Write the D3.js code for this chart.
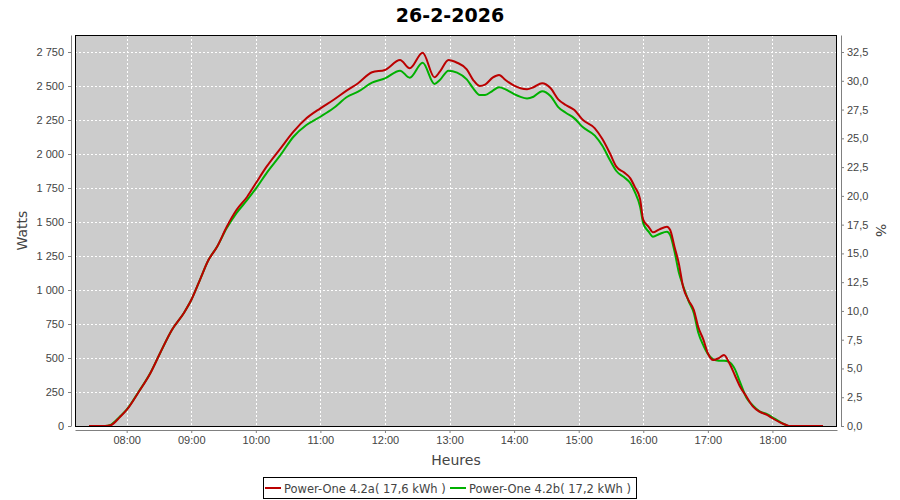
<!DOCTYPE html>
<html>
<head>
<meta charset="utf-8">
<script src="https://cdn.jsdelivr.net/npm/d3@7/dist/d3.min.js"></script>
<style>
    body { margin: 0; background: #fff; }
    svg { display: block; font-family: "DejaVu Sans", sans-serif; }
</style>
</head>
<body>
<div id="chart"></div>
<script>
// sample times (HH:MM), shared by both inverters
const times = ["07:25", "07:40", "07:45", "07:54", "08:00", "08:11", "08:22", "08:31", "08:42", "08:53",
    "09:00", "09:08", "09:16", "09:24", "09:33", "09:42", "09:52", "10:00", "10:10", "10:23",
    "10:35", "10:47", "11:00", "11:12", "11:25", "11:35", "11:48", "12:00", "12:14", "12:23",
    "12:35", "12:46", "12:51", "12:59", "13:07", "13:16", "13:22", "13:28", "13:33", "13:40",
    "13:46", "13:52", "14:00", "14:06", "14:12", "14:18", "14:26", "14:34", "14:41", "14:48",
    "14:56", "15:04", "15:15", "15:22", "15:29", "15:35", "15:42", "15:48", "15:52", "15:57",
    "16:00", "16:05", "16:09", "16:15", "16:22", "16:25", "16:29", "16:33", "16:37", "16:42",
    "16:47", "16:51", "16:56", "17:00", "17:05", "17:10", "17:15", "17:20", "17:25", "17:30",
    "17:36", "17:42", "17:48", "17:55", "18:00", "18:07", "18:13", "18:16", "18:47"];

const wattsA = [0, 0, 5, 68, 118, 248, 388, 535, 706, 829,
    926, 1073, 1220, 1318, 1465, 1588, 1686, 1785, 1907, 2042,
    2164, 2262, 2336, 2397, 2470, 2520, 2601, 2618, 2691, 2630,
    2745, 2564, 2605, 2691, 2671, 2623, 2544, 2500, 2510, 2561,
    2581, 2544, 2502, 2483, 2476, 2491, 2520, 2483, 2402, 2360,
    2323, 2250, 2189, 2110, 2005, 1907, 1865, 1821, 1760, 1670,
    1515, 1465, 1424, 1446, 1465, 1441, 1318, 1196, 1024, 926,
    853, 730, 632, 535, 485, 498, 522, 461, 375, 289,
    215, 142, 105, 81, 57, 27, 7, 0, 0];

const wattsB = [0, 0, 8, 72, 120, 250, 390, 535, 706, 829,
    926, 1073, 1220, 1318, 1455, 1565, 1662, 1745, 1860, 1993,
    2127, 2213, 2274, 2336, 2421, 2458, 2525, 2556, 2613, 2561,
    2671, 2515, 2544, 2613, 2598, 2549, 2483, 2434, 2434, 2465,
    2490, 2475, 2440, 2420, 2409, 2421, 2462, 2425, 2345, 2303,
    2262, 2196, 2135, 2060, 1956, 1875, 1830, 1785, 1723, 1613,
    1490, 1429, 1392, 1412, 1429, 1404, 1285, 1130, 1030, 920,
    830, 690, 590, 530, 490, 480, 480, 470, 420, 320,
    205, 150, 108, 88, 64, 30, 6, 0, 0];

const seriesNames = ["Power-One 4.2a( 17,6 kWh )", "Power-One 4.2b( 17,2 kWh )"];
const seriesColors = ["#bb0000", "#00b000"];
const hourTicks = ["08:00", "09:00", "10:00", "11:00", "12:00", "13:00", "14:00", "15:00", "16:00", "17:00", "18:00"];

let config = {
    width: 900,
    height: 500,
    left: 75,
    right: 837,
    top: 35,
    bottom: 426,
    title: "26-2-2026"
};

let parse = (s) => d3.timeParse("%Y-%m-%d %H:%M")("2026-02-26 " + s);

let svg = d3.select("#chart").append("svg")
    .attr("width", config.width)
    .attr("height", config.height);

let x = d3.scaleTime()
    .domain([parse("07:12"), parse("19:00")])
    .range([config.left, config.right]);

let y = d3.scaleLinear()
    .domain([0, 2875])
    .range([config.bottom, config.top]);

let yRight = d3.scaleLinear()
    .domain([0, 33.98])
    .range([config.bottom, config.top]);

let locale = d3.formatLocale({decimal: ",", thousands: " ", grouping: [3], currency: ["", ""]});
let fmtW = locale.format(",d");
let fmtP = locale.format(".1f");

// plot background
svg.append("rect")
    .attr("x", config.left)
    .attr("y", config.top)
    .attr("width", config.right - config.left)
    .attr("height", config.bottom - config.top)
    .attr("fill", "#cccccc");

let wTicks = d3.range(0, 2751, 250);
let pTicks = d3.range(0, 32.6, 2.5);
let hTicks = hourTicks.map(parse);

// grid
let grid = svg.append("g")
    .attr("stroke", "#fff")
    .attr("stroke-width", 1)
    .attr("stroke-dasharray", "2,2");
grid.selectAll("line.h")
    .data(wTicks.filter(d => d > 0))
    .enter().append("line")
    .attr("x1", config.left)
    .attr("x2", config.right)
    .attr("y1", d => Math.round(y(d)) + 0.5)
    .attr("y2", d => Math.round(y(d)) + 0.5);
grid.selectAll("line.v")
    .data(hTicks)
    .enter().append("line")
    .attr("y1", config.top)
    .attr("y2", config.bottom)
    .attr("x1", d => Math.round(x(d)) + 0.5)
    .attr("x2", d => Math.round(x(d)) + 0.5);

// series (green first, red on top)
let line = d3.line()
    .x((d, i) => x(parse(times[i])))
    .y(d => y(d))
    .curve(d3.curveMonotoneX);

[wattsB, wattsA].forEach((vals, k) => {
    svg.append("path")
        .datum(vals)
        .attr("fill", "none")
        .attr("stroke", seriesColors[1 - k])
        .attr("stroke-width", 2)
        .attr("d", line);
});

// plot border
svg.append("rect")
    .attr("x", config.left + 0.5)
    .attr("y", config.top + 0.5)
    .attr("width", config.right - config.left - 1)
    .attr("height", config.bottom - config.top)
    .attr("fill", "none")
    .attr("stroke", "#000")
    .attr("stroke-width", 1);

function styleAxis(g) {
    g.select(".domain").attr("stroke", "#808080");
    g.selectAll(".tick line").attr("stroke", "#808080");
    g.selectAll(".tick text").attr("fill", "#444").style("font-size", "11px");
}

// axes
svg.append("g")
    .attr("transform", `translate(${config.left - 4},0)`)
    .call(d3.axisLeft(y).tickValues(wTicks).tickFormat(fmtW).tickSize(3).tickSizeOuter(0).tickPadding(4))
    .call(styleAxis);

svg.append("g")
    .attr("transform", `translate(${config.right + 4},0)`)
    .call(d3.axisRight(yRight).tickValues(pTicks).tickFormat(fmtP).tickSize(3).tickSizeOuter(0).tickPadding(3))
    .call(styleAxis);

svg.append("g")
    .attr("transform", `translate(0,${config.bottom + 4})`)
    .call(d3.axisBottom(x).tickValues(hTicks).tickFormat(d3.timeFormat("%H:%M")).tickSize(3).tickSizeOuter(0).tickPadding(3))
    .call(styleAxis);

// labels
svg.append("text")
    .attr("x", 450)
    .attr("y", 22)
    .attr("text-anchor", "middle")
    .style("font-size", "19px")
    .style("font-weight", "bold")
    .text(config.title);

svg.append("text")
    .attr("transform", `translate(27,${(config.top + config.bottom) / 2}) rotate(-90)`)
    .attr("text-anchor", "middle")
    .attr("fill", "#444")
    .style("font-size", "14px")
    .text("Watts");

svg.append("text")
    .attr("transform", `translate(876,${(config.top + config.bottom) / 2}) rotate(90)`)
    .attr("text-anchor", "middle")
    .attr("fill", "#444")
    .style("font-size", "14px")
    .text("%");

svg.append("text")
    .attr("x", (config.left + config.right) / 2)
    .attr("y", 465)
    .attr("text-anchor", "middle")
    .attr("fill", "#444")
    .style("font-size", "14px")
    .text("Heures");

// legend
let legend = svg.append("g");
legend.append("rect")
    .attr("x", 263.5)
    .attr("y", 477.5)
    .attr("width", 373)
    .attr("height", 21)
    .attr("fill", "#fff")
    .attr("stroke", "#000");

let itemX = [265, 450];
seriesNames.forEach((name, i) => {
    legend.append("line")
        .attr("x1", itemX[i])
        .attr("x2", itemX[i] + 16)
        .attr("y1", 488)
        .attr("y2", 488)
        .attr("stroke", seriesColors[i])
        .attr("stroke-width", 2);
    legend.append("text")
        .attr("x", itemX[i] + 19)
        .attr("y", 492.5)
        .attr("fill", "#444")
        .style("font-size", "11.5px")
        .text(name);
});
</script>
</body>
</html>
